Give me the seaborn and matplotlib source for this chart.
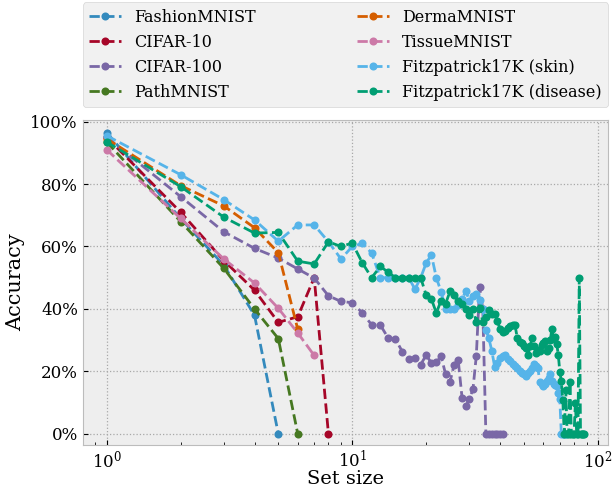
import matplotlib
matplotlib.use("Agg")
import matplotlib.pyplot as plt
import seaborn as sns
from matplotlib.ticker import PercentFormatter

# ------------------------
# données (accuracy en % selon la taille de l'ensemble)
# ------------------------
fashion_x = [1, 2, 3, 4, 5]
fashion_y = [96.5, 69, 54, 38, 0]

cifar10_x = [1, 2, 3, 4, 5, 6, 7, 8]
cifar10_y = [95, 71, 55.5, 46, 35.7, 37.5, 50, 0]

cifar100_x = list(range(1, 42))
cifar100_y = [95, 76, 64.7, 59.4, 56.3, 52.8, 49.9, 44.2, 42.4, 42,
              38.7, 34.9, 34.9, 30.7, 30.3, 26.3, 24, 24.2, 22.2, 25.2,
              22.7, 22.9, 24.8, 19.1, 16.6, 22.2, 23.7, 11.5, 8.8, 11.3,
              14.2, 25, 47, 40, 0, 0, 0, 0, 0, 0, 0]

path_x = [1, 2, 3, 4, 5, 6]
path_y = [93.5, 68, 53, 40, 30.5, 0]

derma_x = [1, 2, 3, 4, 5, 6]
derma_y = [94.5, 79.5, 73, 66, 58, 33.5]

tissue_x = [1, 2, 3, 4, 5, 6, 7]
tissue_y = [91, 69, 56, 48.3, 40.2, 32.3, 25.1]

skin_x = list(range(1, 75))
skin_y = [95.5, 83, 75, 68.5, 61.7, 66.9, 66.9, 61.5, 56, 60,
          61, 57.9, 50, 50, 50, 50, 50, 46.3, 50, 54.7,
          57.3, 50, 45.5, 40, 40, 40, 41.2, 43.3, 45.6, 42.7,
          44, 44.8, 43, 40, 33.3, 30.6, 26.6, 21.5, 22.8, 24.4,
          25, 25.2, 24, 23.3, 22.3, 21.8, 21.2, 20.1, 19.5, 19.1,
          18.6, 19.5, 20.1, 21, 22.3, 21.8, 21.2, 16.5, 15.8, 15.4,
          16, 16.9, 18, 19.1, 17, 16, 15.6, 15.4, 13, 11.2,
          0, 0, 0, 0]

disease_x = list(range(1, 89))
disease_y = [93.5, 79.2, 69.4, 64.3, 64.5, 55.3, 54.4, 61.5, 60, 61.1,
             54.7, 50, 53.6, 51.8, 50, 50, 50, 50, 50, 44.4,
             43.2, 38.7, 42.7, 41.7, 45.6, 44.5, 42.7, 41.7, 40.1, 38,
             39.9, 35.9, 40.3, 35.9, 37.5, 39.6, 38.5, 38.5, 36.1, 33.5,
             32.7, 33, 33.8, 34.5, 35, 34.8, 30.6, 29.5, 29, 28,
             27.5, 25.4, 28, 30.6, 28, 25.9, 27, 26.6, 28.5, 29,
             29.6, 26.6, 27.5, 30, 33.6, 30.5, 31, 28.7, 25.4, 19.9,
             16.9, 10.8, 0, 14, 0, 0, 16.5, 0, 0, 0,
             10, 0, 0, 50, 0, 0, 0, 0]

series = [
    ("FashionMNIST", fashion_x, fashion_y),
    ("CIFAR-10", cifar10_x, cifar10_y),
    ("CIFAR-100", cifar100_x, cifar100_y),
    ("PathMNIST", path_x, path_y),
    ("DermaMNIST", derma_x, derma_y),
    ("TissueMNIST", tissue_x, tissue_y),
    ("Fitzpatrick17K (skin)", skin_x, skin_y),
    ("Fitzpatrick17K (disease)", disease_x, disease_y),
]
colors = ["#348ABD", "#A60628", "#7A68A6", "#467821",
          "#D55E00", "#CC79A7", "#56B4E9", "#009E73"]

# ------------------------
# style
# ------------------------
plt.style.use("bmh")
plt.rcParams["font.family"] = "serif"
plt.rcParams["font.serif"] = ["DejaVu Serif"]

fig = plt.figure(figsize=(6.13, 4.88), dpi=100)
ax = fig.add_axes([0.135, 0.088, 0.857, 0.666])
ax.set_xscale("log")

for (name, xs, ys), c in zip(series, colors):
    sns.lineplot(x=xs, y=ys, ax=ax, color=c, marker="o", linestyle="--",
                 lw=2, markersize=5.8, mew=0, label=name)

ax.set_ylim(-3.6, 100.5)
ax.set_yticks([0, 20, 40, 60, 80, 100])
ax.yaxis.set_major_formatter(PercentFormatter(decimals=0))
ax.tick_params(axis="both", labelsize=12, colors="black")
ax.grid(True, which="major", linestyle=":", color="#a8a8a8", linewidth=0.9)
ax.grid(False, which="minor")
ax.set_xlabel("Set size", fontsize=14, labelpad=-1)
ax.set_ylabel("Accuracy", fontsize=15)

# légende sur toute la largeur au-dessus du graphe
ax.legend(loc="lower left", bbox_to_anchor=(0.0, 1.04, 1.0, 0.2), ncol=2,
          mode="expand", fontsize=11.5, frameon=True, borderaxespad=0)

fig.savefig("out.png", dpi=100)
